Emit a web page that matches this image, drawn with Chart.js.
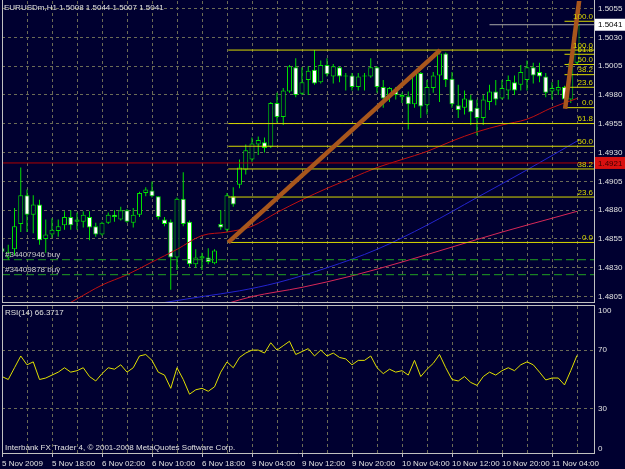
<!DOCTYPE html>
<html>
<head>
<meta charset="utf-8">
<script src="https://cdn.jsdelivr.net/npm/chart.js@4.4.1/dist/chart.umd.min.js"></script>
<style>
  html, body { margin: 0; padding: 0; background: #000030; }
  #wrap { position: relative; width: 625px; height: 469px; background: #000030; overflow: hidden; }
  #priceChart { position: absolute; left: 0; top: 0; }
  #rsiChart { position: absolute; left: 0; top: 303px; }
</style>
</head>
<body>
<div id="wrap">
  <canvas id="priceChart" width="625" height="303"></canvas>
  <canvas id="rsiChart" width="625" height="166"></canvas>
</div>
<script>
// ---- data (hourly EURUSD bars, bar 0 = 5 Nov 2009 10:00) ----
const symbolName = "EURUSDm,H1";

const barOpen = [
  1.4847, 1.4839, 1.4846, 1.4868, 1.4893, 1.4876, 1.4885, 1.4855, 1.4859, 1.4862,
  1.4867, 1.4874, 1.4870, 1.4870, 1.4874, 1.4866, 1.4859, 1.4869, 1.4876, 1.4872,
  1.4880, 1.4869, 1.4876, 1.4895, 1.4897, 1.4892, 1.4872, 1.4870, 1.4839, 1.4890,
  1.4870, 1.4833, 1.4838, 1.4839, 1.4834, 1.4868, 1.4863, 1.4892, 1.4902, 1.4915,
  1.4924, 1.4937, 1.4939, 1.4935, 1.4973, 1.4961, 1.4983, 1.5004, 1.4981, 1.4993,
  1.5002, 1.4991, 1.5006, 1.4996, 1.5004, 1.4996, 1.4997, 1.4987, 1.4996, 1.4996,
  1.5004, 1.4987, 1.4980, 1.4984, 1.4978, 1.4979, 1.4972, 1.4999, 1.4971, 1.4986,
  1.4997, 1.5016, 1.4994, 1.4971, 1.4969, 1.4976, 1.4969, 1.4960, 1.4974, 1.4983,
  1.4977, 1.4984, 1.4991, 1.4989, 1.4993, 1.5004, 1.5000, 1.4996, 1.4983, 1.4984,
  1.4987, 1.4976, 1.5008
];
const barHigh = [
  1.4853, 1.4850, 1.4882, 1.4917, 1.4898, 1.4893, 1.4889, 1.4872, 1.4873, 1.4872,
  1.4879, 1.4880, 1.4878, 1.4879, 1.4879, 1.4869, 1.4870, 1.4878, 1.4880, 1.4883,
  1.4881, 1.4882, 1.4896, 1.4900, 1.4905, 1.4892, 1.4874, 1.4872, 1.4891, 1.4913,
  1.4871, 1.4846, 1.4843, 1.4847, 1.4846, 1.4880, 1.4895, 1.4900, 1.4924, 1.4937,
  1.4943, 1.4944, 1.4943, 1.4974, 1.4982, 1.4986, 1.5006, 1.5012, 1.5004, 1.5005,
  1.5019, 1.5010, 1.5012, 1.5007, 1.5005, 1.4999, 1.4999, 1.4999, 1.4999, 1.5012,
  1.5005, 1.4993, 1.4987, 1.4987, 1.4982, 1.4983, 1.5000, 1.5000, 1.4993, 1.5000,
  1.5019, 1.5017, 1.5000, 1.4989, 1.4984, 1.4980, 1.4976, 1.4980, 1.4989, 1.4993,
  1.4993, 1.4997, 1.4997, 1.5006, 1.5010, 1.5008, 1.5008, 1.4999, 1.4991, 1.4993,
  1.4988, 1.5010, 1.5044
];
const barLow = [
  1.4835, 1.4837, 1.4841, 1.4861, 1.4861, 1.4860, 1.4850, 1.4843, 1.4856, 1.4857,
  1.4863, 1.4863, 1.4863, 1.4865, 1.4854, 1.4857, 1.4858, 1.4868, 1.4870, 1.4871,
  1.4869, 1.4865, 1.4874, 1.4892, 1.4891, 1.4872, 1.4866, 1.4811, 1.4828, 1.4866,
  1.4831, 1.4830, 1.4828, 1.4833, 1.4833, 1.4863, 1.4861, 1.4883, 1.4899, 1.4911,
  1.4922, 1.4928, 1.4930, 1.4934, 1.4956, 1.4954, 1.4982, 1.4978, 1.4980, 1.4980,
  1.4989, 1.4990, 1.4996, 1.4990, 1.4991, 1.4984, 1.4984, 1.4984, 1.4984, 1.4995,
  1.4982, 1.4969, 1.4974, 1.4976, 1.4973, 1.4950, 1.4969, 1.4960, 1.4963, 1.4982,
  1.4974, 1.4987, 1.4969, 1.4960, 1.4963, 1.4954, 1.4945, 1.4954, 1.4967, 1.4971,
  1.4976, 1.4976, 1.4980, 1.4984, 1.4984, 1.4990, 1.4991, 1.4978, 1.4976, 1.4980,
  1.4969, 1.4973, 1.5007
];
const barClose = [
  1.4844, 1.4844, 1.4866, 1.4893, 1.4876, 1.4885, 1.4854, 1.4859, 1.4863, 1.4866,
  1.4874, 1.4867, 1.4872, 1.4876, 1.4865, 1.4859, 1.4869, 1.4876, 1.4874, 1.4880,
  1.4870, 1.4876, 1.4895, 1.4898, 1.4892, 1.4874, 1.4868, 1.4839, 1.4890, 1.4868,
  1.4833, 1.4839, 1.4840, 1.4835, 1.4845, 1.4865, 1.4893, 1.4885, 1.4917, 1.4932,
  1.4938, 1.4941, 1.4934, 1.4973, 1.4961, 1.4984, 1.5005, 1.4980, 1.4991, 1.5001,
  1.4990, 1.5006, 1.4998, 1.5005, 1.4996, 1.4997, 1.4987, 1.4996, 1.4997, 1.5004,
  1.4987, 1.4977, 1.4986, 1.4980, 1.4980, 1.4972, 1.4999, 1.4970, 1.4987, 1.4997,
  1.5016, 1.4993, 1.4972, 1.4967, 1.4977, 1.4965, 1.4960, 1.4976, 1.4983, 1.4976,
  1.4986, 1.4993, 1.4984, 1.5000, 1.5004, 1.4997, 1.4996, 1.4982, 1.4986, 1.4987,
  1.4976, 1.5008, 1.5041
];

// RSI(14), one value per bar
const rsiValues = [
  52, 50, 58, 66, 60, 62, 50, 51, 53, 55,
  58, 55, 56, 58, 52, 49, 54, 58, 57, 60,
  55, 58, 66, 67, 63, 55, 53, 44, 58, 50,
  40, 43, 44, 42, 45, 55, 62, 58, 65, 68,
  70, 70, 68, 75, 70, 73, 76, 67, 69, 71,
  66, 70, 66, 68, 65, 64, 60, 63, 63, 66,
  58, 54, 57, 55, 56, 53, 63, 52, 57, 61,
  67, 58, 50, 49, 52, 48, 46, 52, 55, 53,
  56, 58, 56, 60, 62, 60, 55, 49.7, 51, 51,
  46.3, 56, 66.3717
];

// moving averages read at every 4th bar
const maRedBars = [10, 12, 16, 20, 24, 28, 32, 36, 40, 44, 48, 52, 56, 60, 64, 68, 72, 76, 80, 84, 88, 92];
const maRedValues = [1.4797, 1.4803, 1.4815, 1.4824, 1.4835, 1.4846, 1.4858, 1.4861, 1.4866, 1.4878, 1.4889,
  1.4899, 1.4908, 1.4917, 1.4924, 1.4931, 1.4940, 1.4948, 1.4954, 1.4959, 1.4969, 1.4977];
const maSlowBars = [36, 40, 48, 56, 64, 72, 80, 88, 92];
const maSlowValues = [1.4799, 1.4805, 1.4813, 1.4823, 1.4835, 1.4848, 1.4861, 1.4873, 1.4879];
const maBlueBars = [25, 32, 38, 44, 52, 60, 68, 76, 84, 92];
const maBlueValues = [1.4799, 1.4805, 1.4810, 1.4817, 1.4830, 1.4846, 1.4867, 1.4891, 1.4915, 1.4940];

// axis ticks
const priceTicks = [1.4805, 1.4830, 1.4855, 1.4880, 1.4905, 1.4930, 1.4955, 1.4980, 1.5005, 1.5030, 1.5055];
const rsiTicks = [30, 70];
const timeLabels = ["5 Nov 2009", "5 Nov 18:00", "6 Nov 02:00", "6 Nov 10:00", "6 Nov 18:00", "9 Nov 04:00",
  "9 Nov 12:00", "9 Nov 20:00", "10 Nov 04:00", "10 Nov 12:00", "10 Nov 20:00", "11 Nov 04:00"];

// objects: fibonacci [startBar, price0, endBar, price100], trend lines, horizontal lines, orders
const fibLevels = [0, 23.6, 38.2, 50, 61.8, 100];
const fibMain = [36.2, 1.4852, 70.1, 1.5019];
const fibLast = [90, 1.4969, 92, 1.5044];
const trendMain = [36.2, 1.4852, 70.1, 1.5019];
const trendLast = [90.1, 1.4968, 92.4, 1.5064];
const hlinePrice = 1.4921;
const orderNames = ["#34407946 buy", "#34409878 buy"];
const orderPrices = [1.4837, 1.4824];

// ---- styling ----
const BG = "#000030";
const GRID = "#6c6c56";
const FRAME = "#c0c0c0";
const TEXT = "#e0e0e0";
const CANDLE = "#00e000";
const FIB = "#d8d800";
const FONT = '8px "Liberation Sans", Arial, sans-serif';
const X_MIN = 0;
const X_MAX = 94.72;
const BARS_PER_GRID = 4;
const BARS_PER_LABEL = 8;

const gridBars = [];
for (let b = 0; b <= 92; b += BARS_PER_GRID) gridBars.push(b);

const idx = barOpen.map((_, i) => i);
const wickData = idx.map((i) => ({ x: i, y: [barLow[i], barHigh[i]] }));
const bullData = idx.filter((i) => barClose[i] >= barOpen[i]).map((i) => ({ x: i, y: [barOpen[i], barClose[i]] }));
const bearData = idx.filter((i) => barClose[i] < barOpen[i]).map((i) => ({ x: i, y: [barClose[i], barOpen[i]] }));

function pts(bars, values) {
  return bars.map((b, k) => ({ x: b, y: values[k] }));
}

function lineSet(data, color, width, extra) {
  return Object.assign({
    type: "line", data, borderColor: color, borderWidth: width,
    pointRadius: 0, fill: false, tension: 0, order: 2
  }, extra || {});
}

function fibPrice(fib, level) {
  return fib[1] + (fib[3] - fib[1]) * level / 100;
}

function fibSets(fib) {
  return fibLevels.map((lv) => lineSet(
    [{ x: fib[0], y: fibPrice(fib, lv) }, { x: X_MAX, y: fibPrice(fib, lv) }], FIB, 1, { order: 1 }));
}

function barSet(data, fill, thickness, border, order) {
  return {
    type: "bar", data, backgroundColor: fill, borderColor: CANDLE, borderWidth: border,
    barThickness: thickness, grouped: false, borderSkipped: false, inflateAmount: 0,
    minBarLength: 1, order
  };
}

function fixY(width) {
  return (scale) => { scale.width = width; scale.paddingTop = 0; scale.paddingBottom = 0; };
}

function fixX(height) {
  return (scale) => { scale.height = height; scale.paddingLeft = 0; scale.paddingRight = 0; };
}

function drawFrame(ctx, a, top, bottom) {
  ctx.strokeStyle = FRAME;
  ctx.lineWidth = 1;
  ctx.beginPath();
  ctx.moveTo(a.left + 0.5, top);
  ctx.lineTo(a.left + 0.5, bottom);
  ctx.moveTo(a.right + 0.5, top);
  ctx.lineTo(a.right + 0.5, bottom);
  ctx.stroke();
}

function priceBox(ctx, a, y, text, fill, color) {
  ctx.fillStyle = fill;
  ctx.fillRect(a.right + 1, y - 6, 30, 12);
  ctx.fillStyle = color;
  ctx.textAlign = "left";
  ctx.textBaseline = "middle";
  ctx.fillText(text, a.right + 4, y + 0.5);
}

const priceOverlay = {
  id: "priceOverlay",
  afterDraw(chart) {
    const { ctx, chartArea: a } = chart;
    const ys = chart.scales.y;
    const last = barClose.length - 1;
    ctx.save();
    ctx.font = FONT;
    ctx.fillStyle = TEXT;
    ctx.textAlign = "left";
    ctx.textBaseline = "middle";
    ctx.fillText(symbolName + " " + [barOpen[last], barHigh[last], barLow[last], barClose[last]]
      .map((v) => v.toFixed(4)).join(" "), 4, 7.5);
    ctx.fillStyle = "#c8c8c8";
    orderNames.forEach((name, k) => ctx.fillText(name, 5, ys.getPixelForValue(orderPrices[k]) - 5));

    ctx.fillStyle = FIB;
    ctx.textAlign = "right";
    ctx.textBaseline = "bottom";
    [fibMain, fibLast].forEach((fib) => fibLevels.forEach((lv) => {
      ctx.fillText(lv.toFixed(1), a.right - 1, ys.getPixelForValue(fibPrice(fib, lv)) - 0.5);
    }));

    priceBox(ctx, a, ys.getPixelForValue(hlinePrice), hlinePrice.toFixed(4), "#d81010", "#3a0000");
    priceBox(ctx, a, ys.getPixelForValue(barClose[last]), barClose[last].toFixed(4), "#ffffff", "#000000");

    drawFrame(ctx, a, 0, a.bottom + 1);
    ctx.beginPath();
    ctx.moveTo(a.left, a.bottom + 0.5);
    ctx.lineTo(a.right + 1, a.bottom + 0.5);
    ctx.stroke();
    ctx.restore();
  }
};

const rsiOverlay = {
  id: "rsiOverlay",
  afterDraw(chart) {
    const { ctx, chartArea: a } = chart;
    const ys = chart.scales.y;
    ctx.save();
    ctx.font = FONT;
    ctx.fillStyle = TEXT;
    ctx.textAlign = "left";
    ctx.textBaseline = "middle";
    ctx.fillText("RSI(14) " + rsiValues[rsiValues.length - 1].toFixed(4), 5, 10);
    ctx.fillText("Interbank FX Trader 4, \u00a9 2001-2008 MetaQuotes Software Corp.", 5, a.bottom - 5);
    ctx.fillText("100", a.right + 4, ys.getPixelForValue(100) + 5);
    ctx.fillText("0", a.right + 4, ys.getPixelForValue(0) - 4);
    drawFrame(ctx, a, a.top, a.bottom + 1);
    ctx.beginPath();
    ctx.moveTo(a.left, a.top - 0.5);
    ctx.lineTo(a.right + 1, a.top - 0.5);
    ctx.moveTo(a.left, a.bottom + 0.5);
    ctx.lineTo(a.right + 1, a.bottom + 0.5);
    ctx.stroke();
    ctx.restore();
  }
};

const xGrid = { color: GRID, lineWidth: 1, drawTicks: false, offset: false };

new Chart(document.getElementById("priceChart"), {
  type: "bar",
  data: {
    datasets: [
      barSet(wickData, CANDLE, 1, 0, 6),
      barSet(bullData, BG, 5, 1, 5),
      barSet(bearData, "#ffffff", 5, 1, 5),
      lineSet(pts(maRedBars, maRedValues), "#c01010", 1, { cubicInterpolationMode: "monotone", order: 3 }),
      lineSet(pts(maSlowBars, maSlowValues), "#d82858", 1, { cubicInterpolationMode: "monotone", order: 3 }),
      lineSet(pts(maBlueBars, maBlueValues), "#2424d0", 1, { cubicInterpolationMode: "monotone", order: 3 }),
      lineSet([{ x: X_MIN, y: hlinePrice }, { x: X_MAX, y: hlinePrice }], "#b00000", 1),
      lineSet([{ x: 78, y: barClose[barClose.length - 1] }, { x: X_MAX, y: barClose[barClose.length - 1] }], "#a8a8a8", 1),
      ...orderPrices.map((p) => lineSet([{ x: X_MIN, y: p }, { x: X_MAX, y: p }], "#20a020", 1, { borderDash: [8, 4] })),
      ...fibSets(fibMain),
      ...fibSets(fibLast),
      lineSet([{ x: trendMain[0], y: trendMain[1] }, { x: trendMain[2], y: trendMain[3] }], "#a8561c", 4.5, { order: 0 }),
      lineSet([{ x: trendLast[0], y: trendLast[1] }, { x: trendLast[2], y: trendLast[3] }], "#a8561c", 4.5, { order: 0 })
    ]
  },
  options: {
    responsive: false,
    animation: false,
    events: [],
    layout: { padding: { left: 2, top: 1, right: 0, bottom: 1 } },
    plugins: { legend: { display: false }, tooltip: { enabled: false } },
    scales: {
      x: {
        type: "linear", min: X_MIN, max: X_MAX, offset: false,
        afterBuildTicks: (scale) => { scale.ticks = gridBars.map((v) => ({ value: v })); },
        afterFit: fixX(0),
        ticks: { display: false },
        grid: xGrid,
        border: { display: false, dash: [3, 3] }
      },
      y: {
        position: "right", min: 1.48003, max: 1.50616,
        afterBuildTicks: (scale) => { scale.ticks = priceTicks.map((v) => ({ value: v })); },
        afterFit: fixY(31),
        ticks: { color: TEXT, font: { family: '"Liberation Sans", Arial, sans-serif', size: 8 }, padding: 4,
          callback: (value) => value.toFixed(4) },
        grid: { color: GRID, drawTicks: false },
        border: { display: false, dash: [3, 3] }
      }
    }
  },
  plugins: [priceOverlay]
});

new Chart(document.getElementById("rsiChart"), {
  type: "line",
  data: {
    datasets: [
      lineSet(rsiValues.map((v, i) => ({ x: i, y: v })), "#e0e000", 1)
    ]
  },
  options: {
    responsive: false,
    animation: false,
    events: [],
    layout: { padding: { left: 2, top: 3, right: 0, bottom: 0 } },
    plugins: { legend: { display: false }, tooltip: { enabled: false } },
    scales: {
      x: {
        type: "linear", min: X_MIN, max: X_MAX, offset: false,
        afterBuildTicks: (scale) => { scale.ticks = gridBars.map((v) => ({ value: v })); },
        afterFit: fixX(16),
        ticks: {
          color: TEXT, font: { family: '"Liberation Sans", Arial, sans-serif', size: 8 },
          align: "start", autoSkip: false, maxRotation: 0, padding: 2,
          callback: (value) => (value % BARS_PER_LABEL === 0 ? timeLabels[value / BARS_PER_LABEL] : "")
        },
        grid: {
          color: GRID, drawTicks: true, tickLength: 4, offset: false,
          tickColor: (c) => (c.tick && c.tick.value % BARS_PER_LABEL === 0 ? FRAME : "transparent")
        },
        border: { display: false, dash: [3, 3] }
      },
      y: {
        position: "right", min: 0, max: 100,
        afterBuildTicks: (scale) => { scale.ticks = rsiTicks.map((v) => ({ value: v })); },
        afterFit: fixY(31),
        ticks: { color: TEXT, font: { family: '"Liberation Sans", Arial, sans-serif', size: 8 }, padding: 4 },
        grid: { color: GRID, drawTicks: false },
        border: { display: false, dash: [3, 3] }
      }
    }
  },
  plugins: [rsiOverlay]
});
</script>
</body>
</html>
